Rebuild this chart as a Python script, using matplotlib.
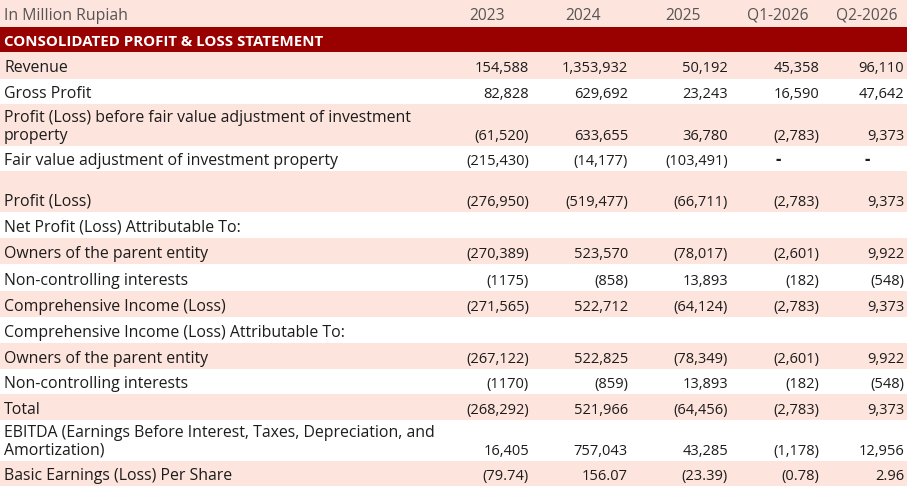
import matplotlib
matplotlib.use("Agg")
import matplotlib.pyplot as plt

# Données du tableau
unit_label = "In Million Rupiah"
periods = ["2023", "2024", "2025", "Q1-2026", "Q2-2026"]
section_title = "CONSOLIDATED PROFIT & LOSS STATEMENT"

row_labels = [
    "Revenue",
    "Gross Profit",
    "Profit (Loss) before fair value adjustment of investment\nproperty",
    "Fair value adjustment of investment property",
    "Profit (Loss)",
    "Net Profit (Loss) Attributable To:",
    "Owners of the parent entity",
    "Non-controlling interests",
    "Comprehensive Income (Loss)",
    "Comprehensive Income (Loss) Attributable To:",
    "Owners of the parent entity",
    "Non-controlling interests",
    "Total",
    "EBITDA (Earnings Before Interest, Taxes, Depreciation, and\nAmortization)",
    "Basic Earnings (Loss) Per Share",
]

val_2023 = ["154,588", "82,828", "(61,520)", "(215,430)", "(276,950)", "",
            "(270,389)", "(1175)", "(271,565)", "", "(267,122)", "(1170)",
            "(268,292)", "16,405", "(79.74)"]
val_2024 = ["1,353,932", "629,692", "633,655", "(14,177)", "(519,477)", "",
            "523,570", "(858)", "522,712", "", "522,825", "(859)",
            "521,966", "757,043", "156.07"]
val_2025 = ["50,192", "23,243", "36,780", "(103,491)", "(66,711)", "",
            "(78,017)", "13,893", "(64,124)", "", "(78,349)", "13,893",
            "(64,456)", "43,285", "(23.39)"]
val_q1 = ["45,358", "16,590", "(2,783)", "-", "(2,783)", "",
          "(2,601)", "(182)", "(2,783)", "", "(2,601)", "(182)",
          "(2,783)", "(1,178)", "(0.78)"]
val_q2 = ["96,110", "47,642", "9,373", "-", "9,373", "",
          "9,922", "(548)", "9,373", "", "9,922", "(548)",
          "9,373", "12,956", "2.96"]
columns = [val_2023, val_2024, val_2025, val_q1, val_q2]

# Mise en page (pixels)
W, H = 907, 486
row_bounds = [52, 79, 104, 146, 171, 212, 238, 264, 291, 317, 343, 369,
              394, 420, 461, 486]
col_right = [529, 628, 728, 819, 904]
head_center = [487, 583, 683, 778, 867]

pink = "#fde4dd"
red = "#990000"
txt = "#1c1c1c"
grey = "#555555"
fs = 10.5
fs_lab = 11.4
fam = ["Open Sans", "DejaVu Sans"]

fig = plt.figure(figsize=(W / 100, H / 100), dpi=100)
ax = fig.add_axes([0, 0, 1, 1])
ax.set_xlim(0, W)
ax.set_ylim(H, 0)
ax.axis("off")

# En-tête
ax.barh(27 / 2, W, height=27, left=0, color=pink, linewidth=0)
ax.text(4, 20, unit_label, fontsize=fs_lab, color=grey, family=fam,
        va="baseline")
for c, p in zip(head_center, periods):
    ax.text(c, 20, p, fontsize=11.2, color=grey, family=fam,
            ha="center", va="baseline")

ax.barh(39.5, W, height=25, left=0, color=red, linewidth=0)
ax.text(4, 46, section_title, fontsize=10.8, color="white", family=fam,
        fontweight="bold", va="baseline")

# Lignes
for i, lab in enumerate(row_labels):
    top, bot = row_bounds[i], row_bounds[i + 1]
    if i % 2 == 0:
        ax.barh((top + bot) / 2, W, height=bot - top, left=0, color=pink,
                linewidth=0)
    base = bot - 6.5
    lines = lab.split("\n")
    for k, line in enumerate(lines):
        y = base - 17.5 * (len(lines) - 1 - k)
        ax.text(4, y, line, fontsize=fs_lab, color=txt, family=fam,
                va="baseline")
    for j, col in enumerate(columns):
        if col[i] == "-":
            ax.text(head_center[j], base, col[i], fontsize=12, color=txt,
                    family=fam, ha="center", va="baseline",
                    fontweight="bold")
        else:
            ax.text(col_right[j], base, col[i], fontsize=fs, color=txt,
                    family=fam, ha="right", va="baseline")

fig.savefig("out.png", dpi=100)
